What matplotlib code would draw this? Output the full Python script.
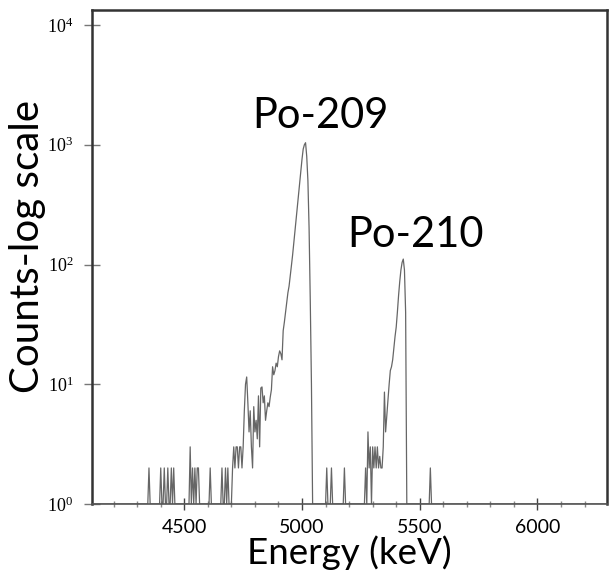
import numpy as np
import matplotlib
matplotlib.use('Agg')
import matplotlib.pyplot as plt
from matplotlib.ticker import MultipleLocator, FixedLocator, FuncFormatter

# alpha spectrum, 5 keV channels; channels not listed hold 1 count (log baseline)
spike_e = [4350, 4400, 4415, 4430, 4445, 4455, 4525, 4535, 4545, 4555, 4560,
           4610, 4660, 4675, 4685, 5105, 5125, 5180, 5545]
spike_c = [2, 2, 2, 2, 2, 2, 3, 2, 2, 2, 2,
           2, 2, 2, 2, 2, 2, 2, 2]

po209_e = [4705, 4710, 4715, 4720, 4725, 4730, 4735, 4740, 4745, 4750,
           4755, 4760, 4765, 4770, 4775, 4780, 4785, 4790, 4795, 4800,
           4805, 4810, 4815, 4820, 4825, 4830, 4835, 4840, 4845, 4850,
           4855, 4860, 4865, 4870, 4875, 4880, 4885, 4890, 4895, 4900,
           4905, 4910, 4915, 4920, 4925, 4930, 4935, 4940, 4945, 4950,
           4955, 4960, 4965, 4970, 4975, 4980, 4985, 4990, 4995, 5000,
           5005, 5010, 5015, 5020, 5025, 5030, 5035, 5040, 5045, 5050]
po209_c = [2, 3, 2, 3, 3, 2, 3, 3, 2, 3,
           6, 10, 11.5, 7, 4, 6, 3, 2, 6.5, 4,
           5, 3.5, 8, 3, 9.3, 9.5, 7, 8, 5, 6,
           7, 6.5, 7.8, 9, 14, 12, 13, 15, 14, 17,
           19, 18, 16, 28, 33, 40, 48, 58, 66, 80,
           98, 120, 150, 190, 240, 300, 380, 480, 600, 760,
           920, 1000, 1040, 800, 500, 200, 50, 10, 1, 1]

po210_e = [5270, 5275, 5280, 5285, 5290, 5295, 5300, 5305, 5310, 5315,
           5320, 5325, 5330, 5335, 5340, 5345, 5350, 5355, 5360, 5365,
           5370, 5375, 5380, 5385, 5390, 5395, 5400, 5405, 5410, 5415,
           5420, 5425, 5430, 5435, 5440, 5445, 5450]
po210_c = [2, 1, 4, 2, 3, 1, 3, 2, 3, 2,
           3, 2, 2.5, 2, 2, 3, 8.6, 4, 5.5, 7.4,
           10, 13, 14, 16, 20, 25, 30, 40, 55, 72,
           90, 104, 111, 90, 40, 1, 1]

energy = np.arange(4105, 6300, 5)
counts = np.ones(len(energy))
for e_list, c_list in [(spike_e, spike_c), (po209_e, po209_c), (po210_e, po210_c)]:
    for e, c in zip(e_list, c_list):
        counts[np.searchsorted(energy, e)] = c

labels = ['Po-209', 'Po-210']
label_pos = [(5077, 1750), (5480, 178)]

fig = plt.figure(figsize=(6.10, 5.83), dpi=100)
ax = fig.add_axes([0.1508, 0.1355, 0.8442, 0.8473])

ax.plot(energy, counts, color='#666666', lw=0.9)
ax.set_yscale('log')
ax.set_xlim(4108, 6295)
ax.set_ylim(1, 10 ** 4.125)

ax.xaxis.set_major_locator(FixedLocator([4500, 5000, 5500, 6000]))
ax.xaxis.set_minor_locator(MultipleLocator(100))
ax.yaxis.set_major_locator(FixedLocator([1, 10, 100, 1000, 10000]))
ax.yaxis.set_minor_locator(FixedLocator([]))
ax.yaxis.set_major_formatter(FuncFormatter(lambda v, p: r'$\mathregular{10^{%d}}$' % round(np.log10(v))))

ax.tick_params(axis='x', which='major', direction='inout', length=9, width=1, color='#444444',
               labelsize=14, pad=6)
ax.tick_params(axis='x', which='minor', direction='inout', length=5, width=1, color='#888888')
ax.tick_params(axis='y', which='major', direction='inout', length=11, width=1, color='#777777',
               labelsize=13, pad=8)
for lab in ax.get_xticklabels():
    lab.set_fontfamily('Lato')
for lab in ax.get_yticklabels():
    lab.set_fontfamily('Liberation Serif')

for side in ['left', 'right', 'top']:
    ax.spines[side].set_color('#333333')
    ax.spines[side].set_linewidth(1.8)
ax.spines['bottom'].set_color('#555555')
ax.spines['bottom'].set_linewidth(1.2)

ax.set_xlabel('Energy (keV)', fontsize=26.5, fontfamily='Lato', labelpad=0)
ax.set_ylabel('Counts-log scale', fontsize=29, fontfamily='Lato')
ax.yaxis.set_label_coords(-0.089, 0.522)

for lab, (x, y) in zip(labels, label_pos):
    ax.text(x, y, lab, fontsize=30, fontfamily='Lato', ha='center', va='center')

fig.savefig('out.png', dpi=100)
